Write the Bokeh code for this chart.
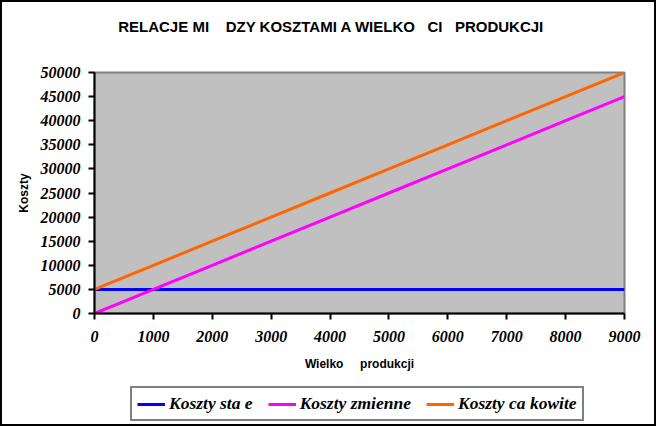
from bokeh.plotting import figure
from bokeh.layouts import column
from bokeh.models import Legend, LegendItem, FixedTicker, NumeralTickFormatter, ColumnDataSource, Range1d, Label
from bokeh.embed import file_html
from bokeh.resources import INLINE

wielkosc = [0, 1000, 2000, 3000, 4000, 5000, 6000, 7000, 8000, 9000]
koszty_stale = [5000, 5000, 5000, 5000, 5000, 5000, 5000, 5000, 5000, 5000]
koszty_zmienne = [0, 5000, 10000, 15000, 20000, 25000, 30000, 35000, 40000, 45000]
koszty_calkowite = [5000, 10000, 15000, 20000, 25000, 30000, 35000, 40000, 45000, 50000]
x_ticks = [0, 1000, 2000, 3000, 4000, 5000, 6000, 7000, 8000, 9000]
y_ticks = [0, 5000, 10000, 15000, 20000, 25000, 30000, 35000, 40000, 45000, 50000]
NB = "\u00a0"
series_names = ["Koszty sta" + NB + "e", "Koszty zmienne", "Koszty ca" + NB + "kowite"]
series_colors = ["#0000FF", "#FF00FF", "#FF6600"]

title_text = "RELACJE MI" + NB * 4 + "DZY KOSZTAMI A WIELKO" + NB * 3 + "CI" + NB * 3 + "PRODUKCJI"

src = ColumnDataSource(dict(x=wielkosc, s=koszty_stale, z=koszty_zmienne, c=koszty_calkowite))
cols = ["s", "z", "c"]

def strip(height, xr, yr):
    f = figure(width=652, height=height, output_backend="svg", toolbar_location=None,
               x_range=xr, y_range=yr,
               min_border_left=0, min_border_right=0, min_border_top=0, min_border_bottom=0)
    f.axis.visible = False
    f.grid.visible = False
    f.outline_line_color = None
    f.background_fill_color = "white"
    f.border_fill_color = "white"
    return f

# title strip
tf = strip(40, Range1d(0, 1), Range1d(0, 1))
tf.add_layout(Label(x=0.447, y=0.4, text=title_text, text_align="center", text_baseline="middle",
                    text_font="Liberation Sans", text_font_size="15px", text_font_style="bold",
                    text_color="black"))

p = figure(width=652, height=340, output_backend="svg", toolbar_location=None,
           x_range=Range1d(0, 9000), y_range=Range1d(0, 50000),
           min_border_left=92, min_border_right=30, min_border_top=30, min_border_bottom=69)

p.background_fill_color = "#C0C0C0"
p.border_fill_color = "white"
p.outline_line_color = "#808080"
p.outline_line_width = 2
p.xgrid.visible = False
p.ygrid.visible = False

for c, col in zip(cols, series_colors):
    p.line("x", c, source=src, line_color=col, line_width=3)

for ax in (p.xaxis[0], p.yaxis[0]):
    ax.axis_line_color = "black"
    ax.axis_line_width = 2
    ax.major_tick_line_color = "black"
    ax.major_tick_line_width = 2
    ax.major_tick_out = 6
    ax.major_tick_in = 0
    ax.minor_tick_line_color = None
    ax.major_label_text_font = "Liberation Serif"
    ax.major_label_text_font_style = "bold italic"
    ax.major_label_text_font_size = "16px"
    ax.major_label_text_color = "black"
    ax.axis_label_text_font = "Liberation Sans"
    ax.axis_label_text_font_style = "bold"
    ax.axis_label_text_font_size = "12px"
    ax.axis_label_text_color = "black"
    ax.formatter = NumeralTickFormatter(format="0")

p.xaxis.ticker = FixedTicker(ticks=x_ticks)
p.yaxis.ticker = FixedTicker(ticks=y_ticks)
p.xaxis.axis_label = "Wielko" + NB * 5 + "produkcji"
p.yaxis.axis_label = "Koszty"
p.xaxis.major_label_standoff = 11
p.yaxis.major_label_standoff = 8
p.xaxis.axis_label_standoff = 12
p.yaxis.axis_label_standoff = 7

# legend strip (series drawn out of its visible range; only legend glyphs show)
lg = strip(42, Range1d(-2, -1), Range1d(-2, -1))
items = []
for name, c, col in zip(series_names, cols, series_colors):
    r = lg.line("x", c, source=src, line_color=col, line_width=3)
    items.append(LegendItem(label=name, renderers=[r]))

legend = Legend(items=items, orientation="horizontal", location=(36, 3))
legend.label_text_font = "Liberation Serif"
legend.label_text_font_style = "bold italic"
legend.label_text_font_size = "17.5px"
legend.label_text_color = "black"
legend.border_line_color = "black"
legend.border_line_width = 2
legend.glyph_width = 28
legend.label_standoff = 4
legend.spacing = 15
legend.padding = 5
legend.margin = 0
legend.background_fill_color = "white"
legend.background_fill_alpha = 1
lg.add_layout(legend, "center")

layout = column(tf, p, lg, spacing=0, styles={"border": "2px solid black"})

open("out.html", "w").write(file_html(layout, INLINE))
